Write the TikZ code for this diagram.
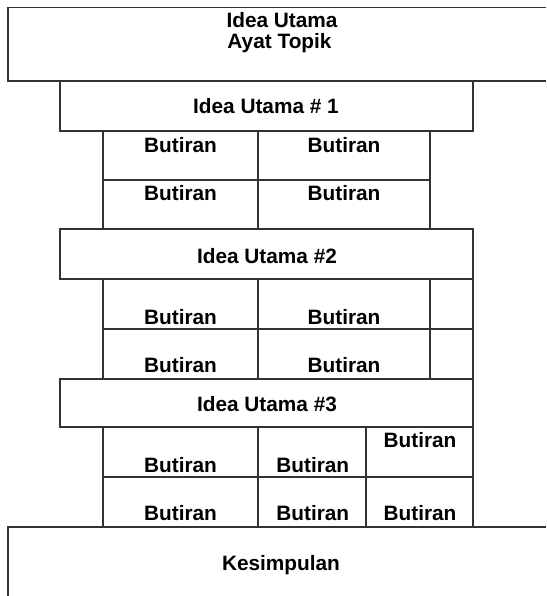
\documentclass[tikz,border=0pt]{standalone}
\usepackage{fontspec}
\setmainfont{Liberation Sans}
\begin{document}
\begin{tikzpicture}[x=1pt,y=-1pt,
  ln/.style={draw=black!80,line width=1.2pt},
  lbl/.style={inner sep=0pt,anchor=base,font=\fontsize{20.8}{22}\selectfont\bfseries}]
\useasboundingbox (0,0) rectangle (546,596);
% top box (open to the right)
\draw[ln] (546,7.5) -- (8,7.5) -- (8,81) -- (546,81);
% Idea boxes
\draw[ln] (60,81) rectangle (473,131);
\draw[ln] (60,229) rectangle (473,279);
\draw[ln] (60,379) rectangle (473,427);
% grid 1
\draw[ln] (103,131) -- (103,229) (258,131) -- (258,229) (430,131) -- (430,229)
  (103,180) -- (430,180);
% grid 2
\draw[ln] (103,279) -- (103,379) (258,279) -- (258,379) (430,279) -- (430,379)
  (473,279) -- (473,379) (103,329) -- (473,329);
% grid 3
\draw[ln] (103,427) -- (103,527) (258,427) -- (258,527) (366,427) -- (366,527)
  (473,427) -- (473,527) (103,477) -- (473,477);
% Kesimpulan box (open)
\draw[ln] (546,527) -- (8,527) -- (8,596);
% texts
\node[lbl] (t1) at (282,27.3) {Idea Utama};
\node[lbl] (t2) at (279.5,49) {Ayat Topik};
\node[lbl] (i1) at (266,114) {Idea Utama \# 1};
\node[lbl] (b11) at (180.5,152.3) {Butiran};
\node[lbl] (b12) at (344,152.3) {Butiran};
\node[lbl] (b13) at (180.5,200.7) {Butiran};
\node[lbl] (b14) at (344,200.7) {Butiran};
\node[lbl] (i2) at (267,263.3) {Idea Utama \#2};
\node[lbl] (b21) at (180.5,324.3) {Butiran};
\node[lbl] (b22) at (344,324.3) {Butiran};
\node[lbl] (b23) at (180.5,372.7) {Butiran};
\node[lbl] (b24) at (344,372.7) {Butiran};
\node[lbl] (i3) at (267,411.7) {Idea Utama \#3};
\node[lbl] (b31) at (180.5,472.7) {Butiran};
\node[lbl] (b32) at (312.8,472.7) {Butiran};
\node[lbl] (b33) at (420,447.3) {Butiran};
\node[lbl] (b34) at (180.5,520.7) {Butiran};
\node[lbl] (b35) at (312.8,520.7) {Butiran};
\node[lbl] (b36) at (420,520.7) {Butiran};
\node[lbl] (k) at (281,570.7) {Kesimpulan};
\end{tikzpicture}
\end{document}
